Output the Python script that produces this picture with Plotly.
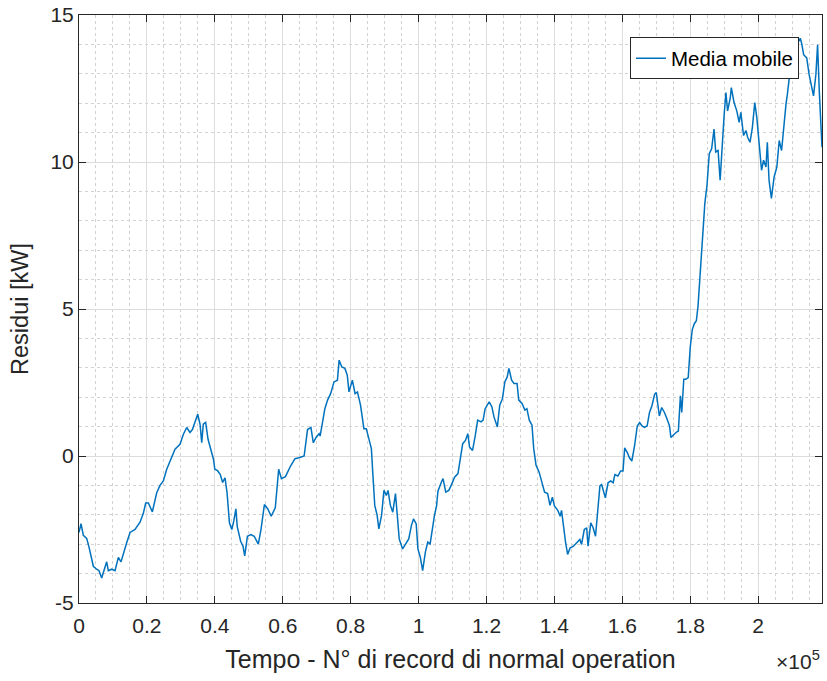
import plotly.graph_objects as go

# record number (x) and residual moving average in kW (y)
x_rec = [0, 590, 1280, 2260, 2950, 3730, 4220, 5200, 5890, 6680, 7460, 8150, 8640, 9620,
         10600, 11590, 12370, 13060, 14040, 15030, 16500, 17970, 18950, 19640, 20430,
         21600, 22880, 23860, 24840, 25830, 26810, 27590, 28280, 29750, 30740, 31720,
         32700, 33390, 34170, 34960, 35650, 36140, 36600, 37300, 38000, 38800, 39600,
         40000, 40800, 41600, 42300, 43000, 43600, 44300, 45000, 45600, 46200, 46600,
         47600, 48300, 48800, 49600, 50600, 51600, 52300, 52800, 53600, 54600, 55600,
         56600, 57800, 58800, 59600, 60800, 62300, 63600, 64800, 66300, 67300, 68300,
         69000, 69800, 70700, 71000, 71800, 72400, 73200, 74100, 75100, 76100, 76600,
         77400, 78300, 79000, 79500, 80500, 81300, 82000, 82900, 83900, 84600, 85400,
         86100, 86500, 87100, 87800, 88300, 89100, 89800, 90500, 91000, 91700, 92400,
         93200, 93700, 94300, 95300, 96100, 97100, 97900, 98500, 99300, 99800, 100500,
         101200, 102000, 102700, 103400, 104100, 104700, 105300, 105700, 106700, 107200,
         108000, 108900, 109600, 110600, 111600, 112200, 113000, 113800, 114500, 115000,
         115900, 116700, 117400, 118400, 119000, 119600, 120800, 121600, 122200, 123200,
         123900, 124700, 125400, 126100, 126600, 127400, 128100, 129000, 129500, 130500,
         131300, 131900, 132600, 133400, 133900, 134600, 135500, 136300, 137100, 138000,
         138700, 139400, 140000, 141000, 141700, 142100, 142600, 143300, 143900, 144600,
         145600, 146500, 147500, 148000, 148800, 149500, 149900, 150700, 151400, 152100,
         152700, 153400, 153900, 154600, 155000, 155800, 156600, 157300, 157800, 158700,
         159500, 160200, 160700, 161500, 162100, 162800, 163600, 164400, 165100, 165800,
         166500, 167300, 168000, 168700, 169500, 170000, 170400, 170900, 171600, 172400,
         173200, 173900, 174300, 175100, 175800, 176500, 177100, 177500, 178100, 178700,
         179400, 180000, 180600, 181200, 181800, 182300, 182900, 183300, 183900, 184300,
         184900, 185600, 186300, 187000, 187500, 188200, 188800, 189300, 190000, 190500,
         191000, 191800, 192100, 192900, 193700, 194400, 194900, 195700, 196400, 196900,
         197600, 198300, 199000, 199600, 200300, 201000, 201600, 202300, 202700, 203200,
         203900, 204700, 205500, 206200, 206900, 207500, 208200, 208600, 209400, 210100,
         211100, 212400, 212800, 213400, 214300, 215000, 215700, 216300, 217000, 217500,
         218000, 218400, 218800]

y_res = [-2.6, -2.3, -2.7, -2.8, -3.1, -3.5, -3.75, -3.85, -3.9, -4.15, -3.85, -3.6, -3.9, -3.85,
         -3.9, -3.45, -3.6, -3.3, -2.95, -2.6, -2.5, -2.25, -1.95, -1.6, -1.6,
         -1.9, -1.25, -1.0, -0.85, -0.45, -0.17, 0.0, 0.23, 0.4, 0.74, 0.97,
         0.8, 0.9, 1.2, 1.42, 1.08, 0.45, 1.08, 1.14, 0.57, 0.23, -0.11,
         -0.45, -0.5, -0.63, -0.9, -0.74, -1.25, -2.27, -2.5, -2.2, -1.8, -2.4,
         -2.9, -3.07, -3.4, -2.73, -2.67, -2.73, -2.9, -3.0, -2.5, -1.65, -1.8,
         -2.05, -1.76, -0.45, -0.77, -0.7, -0.34, -0.09, -0.06, 0.0, 0.9, 0.97,
         0.45, 0.63, 0.76, 0.68, 1.2, 1.61, 1.9, 2.12, 2.52, 2.58, 3.26,
         3.03, 2.98, 2.75, 2.18, 2.58, 2.12, 2.18, 1.73, 0.93, 0.93, 0.59,
         0.25, -0.55, -1.68, -2.02, -2.48, -2.02, -1.17, -1.34, -1.17, -1.68, -1.91,
         -1.28, -1.91, -2.82, -3.16, -2.99, -2.82, -2.36, -2.14, -2.31, -3.16, -3.44,
         -3.9, -3.27, -2.93, -2.99, -2.36, -2.0, -1.7, -1.2, -0.89, -0.77,
         -1.23, -1.17, -1.0, -0.72, -0.6, -0.2, 0.42, 0.53, 0.76, 0.31,
         0.19, 0.7, 1.22, 1.16, 1.22, 1.61, 1.84, 1.67, 1.33, 0.99,
         1.73, 1.95, 2.52, 2.69, 2.98, 2.58, 2.47, 2.47, 1.9, 1.78,
         1.56, 1.61, 1.22, 1.05, 0.25, -0.32, -0.55, -0.89, -1.23, -1.28,
         -1.68, -1.4, -1.7, -1.85, -2.05, -1.85, -2.39, -2.95, -3.35, -3.13,
         -3.07, -2.95, -2.84, -3.01, -2.5, -2.44, -3.07, -2.27, -2.44, -2.73,
         -1.93, -1.02, -0.97, -1.25, -1.42, -0.91, -0.85, -0.91, -0.63, -0.68,
         -0.51, -0.51, 0.28, 0.11, -0.06, -0.17, 0.34, 1.02, 1.14, 1.02,
         0.97, 1.02, 1.48, 1.7, 2.1, 2.16, 1.76, 1.36, 1.65, 1.48,
         1.25, 1.02, 0.63, 0.74, 0.8, 0.85, 2.05, 1.48, 2.61, 2.61,
         2.67, 3.7, 4.3, 4.5, 4.6, 5.11, 6.12, 7.02, 7.92, 8.6,
         9.16, 10.28, 10.45, 11.12, 10.34, 10.39, 9.38, 10.45, 11.63, 12.36,
         11.74, 12.19, 12.53, 12.02, 11.74, 11.35, 11.69, 10.9, 11.07, 10.84,
         10.67, 11.18, 12.02, 11.52, 10.73, 9.72, 10.06, 9.83, 10.67, 9.38,
         8.76, 9.49, 9.83, 10.73, 10.39, 11.18, 11.97, 12.3, 13.09, 13.54,
         13.93, 14.21, 14.04, 13.65, 13.54, 12.98, 12.53, 12.25, 12.98, 13.99,
         12.42, 11.5, 10.5]

x_ticks = [0, 20000, 40000, 60000, 80000, 100000, 120000, 140000, 160000, 180000, 200000]
x_tick_labels = ['0', '0.2', '0.4', '0.6', '0.8', '1', '1.2', '1.4', '1.6', '1.8', '2']
y_ticks = [-5, 0, 5, 10, 15]
y_tick_labels = ['-5', '0', '5', '10', '15']

txt = '#262626'
font = 'Liberation Sans, Arial, sans-serif'

fig = go.Figure()
fig.add_trace(go.Scatter(x=x_rec, y=y_res, mode='lines', name='Media mobile',
                         line=dict(color='#0072BD', width=1.5)))

axis_common = dict(showline=True, linecolor=txt, linewidth=1, mirror='ticks',
                   ticks='inside', ticklen=7, tickcolor=txt, tickwidth=1,
                   showgrid=True, gridcolor='#dcdcdc', gridwidth=1, zeroline=False,
                   automargin=False, ticklabeloverflow='allow',
                   tickfont=dict(size=21, color=txt, family=font))

fig.update_xaxes(range=[0, 218800], tickmode='array', tickvals=x_ticks, ticktext=x_tick_labels,
                 ticklabelstandoff=4,
                 minor=dict(tickmode='linear', tick0=0, dtick=5000, showgrid=True,
                            gridcolor='#d2d2d2', griddash='dot', gridwidth=1),
                 title=dict(text='Tempo - N° di record di normal operation',
                            font=dict(size=25, color=txt, family=font), standoff=14),
                 **axis_common)
fig.update_yaxes(range=[-5, 15], tickmode='array', tickvals=y_ticks, ticktext=y_tick_labels,
                 minor=dict(tickmode='linear', tick0=0, dtick=1, showgrid=True,
                            gridcolor='#d2d2d2', griddash='dot', gridwidth=1),
                 title=dict(text='Residui [kW]',
                            font=dict(size=23.5, color=txt, family=font), standoff=15),
                 **axis_common)

# exponent label like MATLAB
fig.add_annotation(text='×10<sup>5</sup>', xref='paper', yref='paper', x=1.0, y=-0.071,
                   xanchor='right', yanchor='top', showarrow=False,
                   font=dict(size=21, color=txt, family=font))

fig.update_layout(
    width=827, height=681,
    margin=dict(l=79, r=5, t=15, b=78),
    paper_bgcolor='white', plot_bgcolor='white',
    font=dict(family=font, color=txt),
    showlegend=True,
    legend=dict(x=0.969, y=0.962, xanchor='right', yanchor='top',
                bgcolor='white', bordercolor=txt, borderwidth=1,
                font=dict(size=20.5, color='black', family=font)),
)

# drop the default page margin so the figure sits at the window corner
fig.write_html("out.html", config={'displayModeBar': False},
               post_script="document.body.style.margin='0';")
